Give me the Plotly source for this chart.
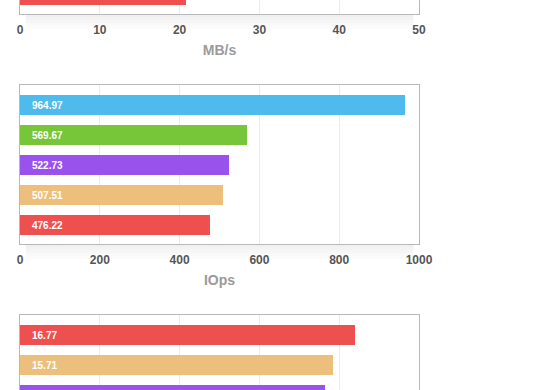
import plotly.graph_objects as go

W, H = 560, 390

# ---- data ----
mbps_values = [20.8]
mbps_colors = ["#EE5050"]

iops_values = [964.97, 569.67, 522.73, 507.51, 476.22]
iops_labels = ["964.97", "569.67", "522.73", "507.51", "476.22"]
iops_colors = ["#4EBBEC", "#77C63A", "#9A52EC", "#ECC07C", "#EE5050"]

lat_values = [16.77, 15.71, 15.28]
lat_labels = ["16.77", "15.71", ""]
lat_colors = ["#EE5050", "#ECC07C", "#9A52EC"]

mbps_ticks = [0, 10, 20, 30, 40, 50]
iops_ticks = [0, 200, 400, 600, 800, 1000]
lat_ticks = [0, 4, 8, 12, 16, 20]

FONT = "Liberation Sans"
BORDER = "#b8b8b8"
GRID = "#ebebeb"

def px_y(p):
    return (H - p) / H

xdom = [20 / W, 419 / W]

fig = go.Figure()

def add_bars(values, colors, xa, ya):
    fig.add_trace(go.Bar(
        x=values, y=list(range(len(values))), orientation="h",
        marker=dict(color=colors, line=dict(width=0)), width=0.667,
        xaxis=xa, yaxis=ya, hoverinfo="skip", showlegend=False))

add_bars(mbps_values, mbps_colors, "x", "y")
add_bars(iops_values, iops_colors, "x2", "y2")
add_bars(lat_values, lat_colors, "x3", "y3")

annotations = []
for labels, xr, yr in [(iops_labels, "x2", "y2"), (lat_labels, "x3", "y3")]:
    for i, t in enumerate(labels):
        if not t:
            continue
        annotations.append(dict(
            x=0, y=i, xref=xr, yref=yr, text=t, showarrow=False,
            xanchor="left", yanchor="middle", xshift=10,
            font=dict(family=FONT, size=10, color="white", weight="bold")))

tickfont = dict(family=FONT, size=12, color="#555555", weight="bold")
titlefont = dict(family=FONT, size=14, color="#9a9a9a", weight="bold")

def xax(rng, tvals, **kw):
    d = dict(domain=xdom, range=rng, tickvals=tvals, showgrid=True,
             gridcolor=GRID, gridwidth=1, zeroline=False, showline=True,
             linecolor=BORDER, linewidth=1, tickfont=tickfont,
             ticks="outside", ticklen=5, tickcolor="rgba(0,0,0,0)",
             fixedrange=True, automargin=False)
    d.update(kw)
    return d

def yax(dom, rng, anchor):
    return dict(domain=dom, range=rng, showticklabels=False, showgrid=False,
                zeroline=False, showline=True, mirror=True, linecolor=BORDER,
                linewidth=1, anchor=anchor, fixedrange=True, automargin=False)

# shadows below plot boxes
shapes = []
for bottom in (14, 244):
    for k in range(1, 6):
        shapes.append(dict(type="rect", xref="paper", yref="paper",
                           x0=xdom[0] + 0.01, x1=xdom[1] - 0.01,
                           y0=px_y(bottom + 3 * k), y1=px_y(bottom),
                           fillcolor="rgba(0,0,0,0.012)", line=dict(width=0),
                           layer="below"))

fig.update_layout(
    width=W, height=H, autosize=False,
    margin=dict(l=0, r=0, t=0, b=0, pad=0, autoexpand=False),
    paper_bgcolor="white", plot_bgcolor="white",
    bargap=0,
    xaxis=xax([0, 50], mbps_ticks, anchor="y",
              title=dict(text="MB/s", font=titlefont, standoff=8)),
    yaxis=yax([px_y(14), 1], [0.643, 0.177], "x"),
    xaxis2=xax([0, 1000], iops_ticks, anchor="y2", mirror=True,
               title=dict(text="IOps", font=titlefont, standoff=8)),
    yaxis2=yax([px_y(244), px_y(85)], [4.633, -0.667], "x2"),
    xaxis3=xax([0, 20], lat_ticks, anchor="y3", side="top",
               showticklabels=False, ticks=""),
    yaxis3=yax([0, px_y(315.3)], [1.833, -0.657], "x3"),
    annotations=annotations,
    shapes=shapes,
)

post = (
    "document.documentElement.style.overflow='hidden';"
    "document.body.style.margin='0';document.body.style.overflow='hidden';"
    "var gd=document.getElementById('{plot_id}');"
    "Plotly.relayout(gd,{width:561,height:390});"
    "Plotly.relayout(gd,{width:560,height:390});"
)

fig.write_html("out.html", post_script=post,
               config={"responsive": False, "displayModeBar": False})
